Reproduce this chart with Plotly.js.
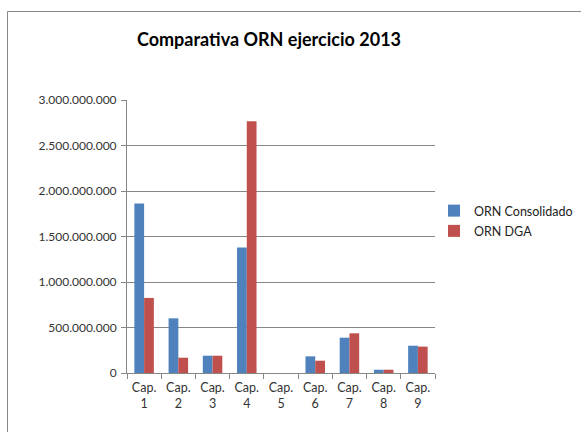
<!DOCTYPE html>
<html>
<head>
<meta charset="utf-8">
<script src="https://cdn.plot.ly/plotly-3.0.1.min.js"></script>
<style>html,body{margin:0;padding:0;background:#fff;}#chart{width:581px;height:432px;}</style>
</head>
<body>
<div id="chart"></div>
<script>
var categories = ["Cap.<br>1","Cap.<br>2","Cap.<br>3","Cap.<br>4","Cap.<br>5","Cap.<br>6","Cap.<br>7","Cap.<br>8","Cap.<br>9"];
var consolidado = [1863000000, 601000000, 190000000, 1379000000, 0, 183000000, 388000000, 36000000, 300000000];
var dga = [825000000, 168000000, 190000000, 2766000000, 0, 135000000, 436000000, 36000000, 290000000];
var tickVals = [0, 500000000, 1000000000, 1500000000, 2000000000, 2500000000, 3000000000];
var tickText = ["0","500.000.000","1.000.000.000","1.500.000.000","2.000.000.000","2.500.000.000","3.000.000.000"];

var font = "Lato, 'Open Sans', sans-serif";
var data = [
  {type:'bar', name:'ORN Consolidado', x:categories, y:consolidado, marker:{color:'#4F81BD'}, legendgroup:'a'},
  {type:'bar', name:'ORN DGA', x:categories, y:dga, marker:{color:'#C0504D'}, legendgroup:'b'}
];
var layout = {
  width:581, height:432,
  margin:{l:127, r:146, t:100, b:59, autoexpand:false},
  paper_bgcolor:'#fff', plot_bgcolor:'#fff',
  font:{family:font, size:11, color:'#333'},
  title:{text:'<b>Comparativa ORN ejercicio 2013</b>', font:{family:font, size:18, color:'#000'}, x:269/581, xanchor:'center', y:1-40/432, yanchor:'middle'},
  barmode:'group', bargap:0.43, bargroupgap:0,
  showlegend:true,
  legend:{x:(434-127)/308, xanchor:'left', y:(373-196)/273, yanchor:'top', traceorder:'grouped', tracegroupgap:1, itemwidth:30, font:{family:font, size:12.5, color:'#222'}, bgcolor:'rgba(0,0,0,0)'},
  xaxis:{showline:true, linecolor:'#868686', linewidth:1, ticks:'outside', tickson:'boundaries', ticklen:5, tickcolor:'#868686', showgrid:false, tickfont:{family:font, size:12.5, color:'#333'}, ticklabelstandoff:3, fixedrange:true},
  yaxis:{range:[0,3000000000], tickvals:tickVals, ticktext:tickText, showline:true, linecolor:'#868686', linewidth:1, ticks:'outside', ticklen:5, tickcolor:'#868686', showgrid:true, gridcolor:'#868686', gridwidth:1, zeroline:false, tickfont:{family:font, size:12, color:'#333'}, ticklabelstandoff:2},
  shapes:[{type:'rect', xref:'paper', yref:'paper', x0:(7.5-127)/308, x1:1.6, y0:-0.5, y1:(373-11.5)/273, line:{color:'#868686', width:1}, fillcolor:'rgba(0,0,0,0)', layer:'below'}]
};
Plotly.newPlot('chart', data, layout, {displayModeBar:false, staticPlot:true});
</script>
</body>
</html>
